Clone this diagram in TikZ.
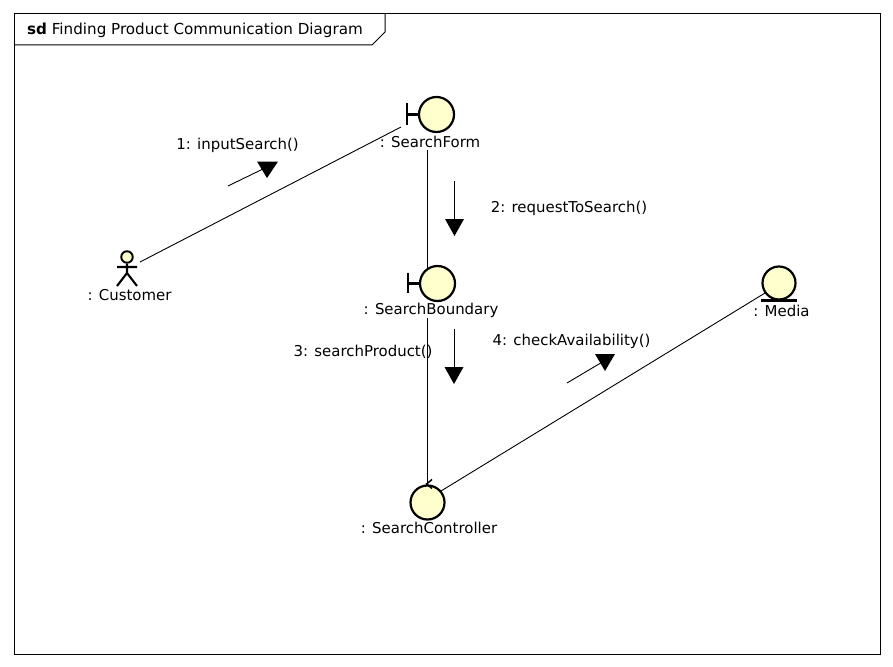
\documentclass[tikz,border=0pt]{standalone}
\usepackage{fontspec}
\setmainfont{DejaVu Sans}
\usetikzlibrary{calc}
\definecolor{fillc}{RGB}{255,255,206}
\tikzset{
  x=1pt,y=-1pt,
  lbl/.style={inner sep=0pt,font=\fontsize{14.95}{17}\selectfont,text=black},
  sym/.style={draw=black,line width=2.2pt,fill=fillc},
  link/.style={draw=black,line width=0.9pt},
  msg/.style={draw=black,line width=0.9pt},
  tip/.style={fill=black,draw=none},
  frm/.style={draw=black,line width=1pt}
}
\begin{document}
\begin{tikzpicture}
\useasboundingbox (0,0) rectangle (893,666);
\fill[white] (0,0) rectangle (893,666);
\draw[frm] (14,14) rectangle (880,654);
\draw[frm] (14,45) -- (372,45) -- (385,32) -- (385,14);
\node[lbl,anchor=west,font=\fontsize{15.15}{17}\selectfont] (title) at (27,30) {\textbf{sd} Finding Product Communication Diagram};
% actor
\node[circle,sym,line width=1.9pt,minimum size=11.5pt,inner sep=0pt] (customer) at (127,257) {};
\draw[line width=2.1pt] (customer.south) -- (127,273) (117,267) -- (137,267) (117,286) -- (127,273) -- (137,286);
\node[lbl] (customerl) at (129.5,295.5) {: Customer};
% search form
\node[circle,sym,minimum size=35pt,inner sep=0pt] (form) at (436.5,114.5) {};
\draw[line width=2.2pt] (form.west) -- (407,114.5) (407,103) -- (407,125);
\node[lbl] (forml) at (430,141.5) {: SearchForm};
% boundary
\node[circle,sym,minimum size=35pt,inner sep=0pt] (bound) at (437.5,283.5) {};
\draw[line width=2.2pt] (bound.west) -- (408,283.5) (408,273) -- (408,293);
\node[lbl] (boundl) at (431,310.5) {: SearchBoundary};
% controller
\coordinate (ctop) at (427.5,485);
\coordinate (fromF) at (427.5,150);
\coordinate (toB) at (427.5,268);
\coordinate (fromB) at (427.5,318);
\coordinate (custEnd) at (140,262);
\coordinate (formEnd) at (401,127);
\coordinate (medEnd) at (765,293);
\coordinate (ctrlEnd) at (441,491);
\draw[link] (custEnd) -- (formEnd);
\draw[link] (fromF) -- (toB);
\draw[link] (fromB) -- (ctop);
\draw[link] (medEnd) -- (ctrlEnd);
\node[circle,sym,minimum size=34pt,inner sep=0pt] (ctrl) at (427.5,502.5) {};
\draw[line width=1.5pt] (432,479.5) -- (426.5,484) -- (432,488.5);
\node[lbl] (ctrll) at (429,527.5) {: SearchController};
% media
\node[circle,sym,minimum size=33pt,inner sep=0pt] (media) at (779,283) {};
\draw[line width=2.2pt] (761,300.5) -- (797,300.5);
\node[lbl] (medial) at (781.5,310.5) {: Media};
% messages
\node[lbl] (m1) at (237.5,145.5) {1: inputSearch()};
\coordinate (a1) at (228,186); \coordinate (b1) at (265,168);
\draw[msg] (a1) -- (b1);
\fill[tip] (257,161.5) -- (278,161.5) -- (267,178) -- cycle;
\node[lbl] (m2) at (569,208.5) {2: requestToSearch()};
\coordinate (a2) at (454.5,181); \coordinate (b2) at (454.5,222);
\draw[msg] (a2) -- (b2);
\fill[tip] (445,219) -- (464,219) -- (454.5,236) -- cycle;
\node[lbl] (m3) at (363,351.5) {3: searchProduct()};
\coordinate (a3) at (454,329); \coordinate (b3) at (454,370);
\draw[msg] (a3) -- (b3);
\fill[tip] (444.5,367) -- (463.5,367) -- (454,384) -- cycle;
\node[lbl] (m4) at (571.5,341.5) {4: checkAvailability()};
\coordinate (a4) at (567,383); \coordinate (b4) at (604,361);
\draw[msg] (a4) -- (b4);
\fill[tip] (595,354) -- (615,354) -- (605,371) -- cycle;
\end{tikzpicture}
\end{document}
